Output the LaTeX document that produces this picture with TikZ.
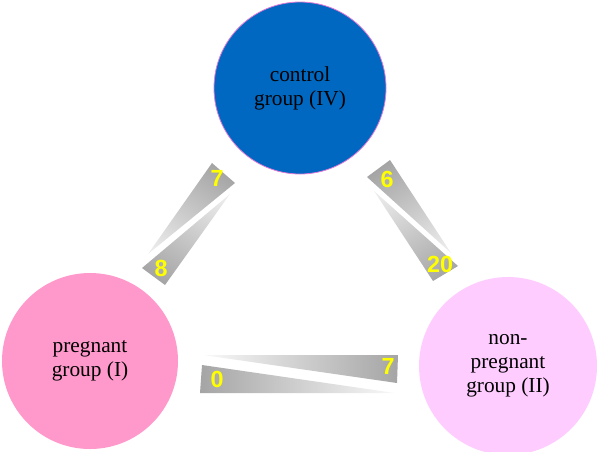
\documentclass[tikz,border=0pt]{standalone}
\usepackage{fontspec}
\setmainfont{Liberation Serif}
\newfontfamily\numfont{Liberation Sans}
\usepackage{tikz}
\usetikzlibrary{calc}
\usepackage{xcolor}
\definecolor{ctrlblue}{HTML}{0068C0}
\definecolor{ctrlrim}{HTML}{E07AD8}
\definecolor{pregpink}{HTML}{FF99CC}
\definecolor{nonpregpink}{HTML}{FFCCFF}
\definecolor{bandgray}{HTML}{A0A0A0}
\definecolor{numyellow}{HTML}{FFFF00}

\tikzset{
  group/.style={circle,inner sep=0pt,align=center,font=\fontsize{16}{18}\selectfont},
  count/.style={font=\numfont\bfseries\fontsize{17.5}{20}\selectfont,text=numyellow,inner sep=0pt},
}

\begin{document}
\begin{tikzpicture}[x=0.75pt,y=-0.75pt]
  \useasboundingbox (0,0) rectangle (598,451);
  \node[group,fill=ctrlblue,draw=ctrlrim,line width=0.6pt,minimum size=129pt] (ctrl) at (300,88) {control\\group (IV)};
  \node[group,fill=pregpink,minimum size=132pt] (preg) at (90,361) {pregnant\\group (I)};
  \node[group,fill=nonpregpink,minimum size=133.5pt] (nonpreg) at (508,366) {non-\\pregnant\\group (II)};

  % band IV -- I
  \coordinate (la1) at (212,163);
  \coordinate (la2) at (235,183);
  \coordinate (la3) at (148,254);
  \coordinate (lb1) at (142,268);
  \coordinate (lb2) at (165,285);
  \coordinate (lb3) at (230,194);
  \coordinate (lmid) at ($(la1)!0.5!(lb2)$);
  \begin{scope}
    \clip (la1) -- (la2) -- (la3) -- cycle;
    \shade[top color=bandgray,bottom color=white,shading angle=-34] (lmid) circle (70);
  \end{scope}
  \begin{scope}
    \clip (lb1) -- (lb2) -- (lb3) -- cycle;
    \shade[top color=bandgray,bottom color=white,shading angle=146] (lmid) circle (70);
  \end{scope}

  % band IV -- II
  \coordinate (ra1) at (390,160);
  \coordinate (ra2) at (367,177);
  \coordinate (ra3) at (451,253);
  \coordinate (rb1) at (458,266);
  \coordinate (rb2) at (433,281);
  \coordinate (rb3) at (374,191);
  \coordinate (rmid) at ($(ra2)!0.5!(rb1)$);
  \begin{scope}
    \clip (ra1) -- (ra2) -- (ra3) -- cycle;
    \shade[top color=bandgray,bottom color=white,shading angle=32] (rmid) circle (70);
  \end{scope}
  \begin{scope}
    \clip (rb1) -- (rb2) -- (rb3) -- cycle;
    \shade[top color=bandgray,bottom color=white,shading angle=212] (rmid) circle (70);
  \end{scope}

  % band I -- II
  \coordinate (ba1) at (203,355);
  \coordinate (ba2) at (398,355);
  \coordinate (ba3) at (397,383);
  \coordinate (bb1) at (202,365);
  \coordinate (bb2) at (200,393);
  \coordinate (bb3) at (395,393);
  \coordinate (bmid) at ($(ba1)!0.5!(bb3)$);
  \begin{scope}
    \clip (ba1) -- (ba2) -- (ba3) -- cycle;
    \shade[right color=bandgray,left color=white] (bmid) circle (110);
  \end{scope}
  \begin{scope}
    \clip (bb1) -- (bb2) -- (bb3) -- cycle;
    \shade[left color=bandgray,right color=white] (bmid) circle (110);
  \end{scope}

  \node[count] (c7a) at (217,178) {7};
  \node[count] (c8) at (161,268) {8};
  \node[count] (c6) at (387,179) {6};
  \node[count] (c20) at (440,264) {20};
  \node[count] (c7b) at (388,366) {7};
  \node[count] (c0) at (217,379) {0};
\end{tikzpicture}
\end{document}
